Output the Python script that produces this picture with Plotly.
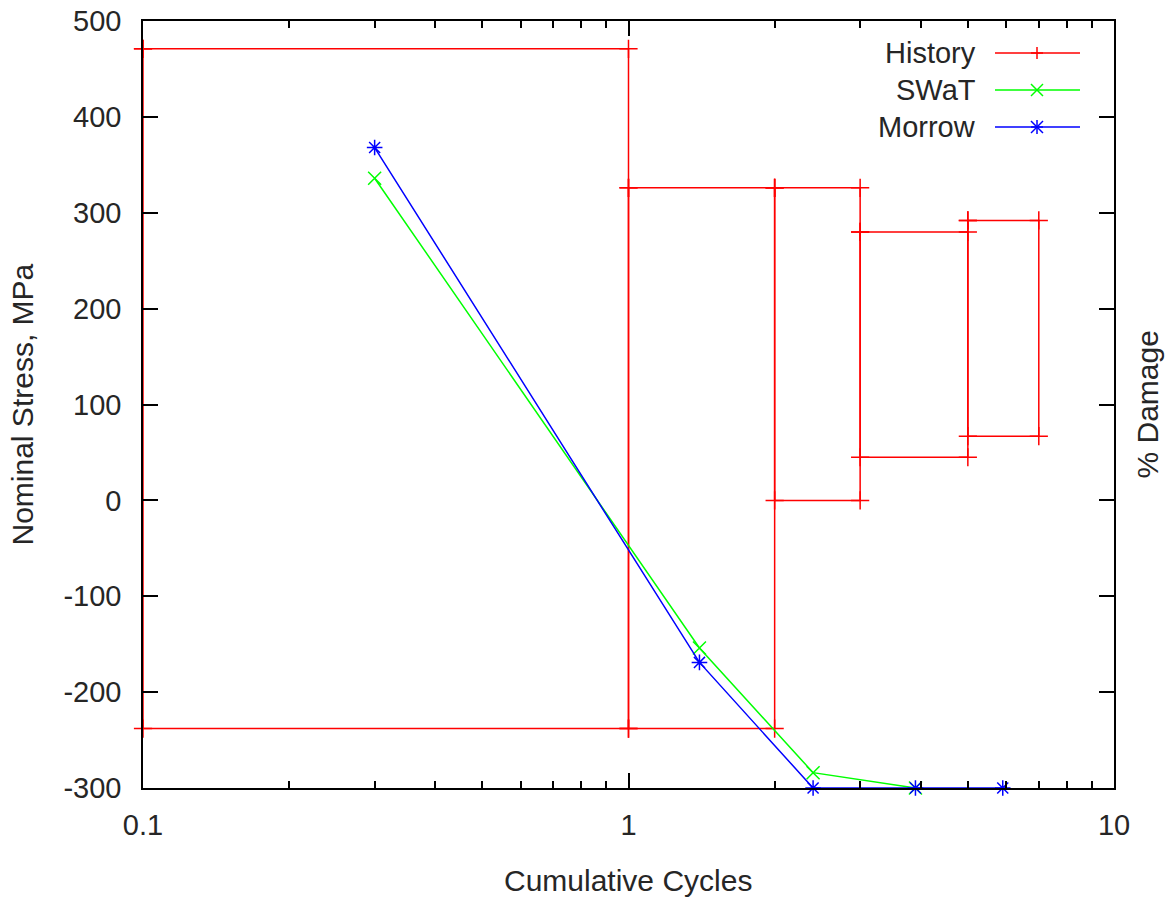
import plotly.graph_objects as go

# ---- data ----
# History blocks: cycle span [start, end] with stress min/max
hist_start = [0.1, 1, 2, 3, 5]
hist_end = [1, 2, 3, 5, 7]
hist_min = [-238, -238, 0, 45, 67]
hist_max = [471, 326, 326, 280, 292]

swat_x = [0.3, 1.4, 2.4, 3.9]
swat_y = [336, -154, -284, -300]

morrow_x = [0.3, 1.4, 2.4, 3.9, 5.9]
morrow_y = [368, -169, -300, -300, -300]

x_major = [0.1, 1, 10]
x_major_text = ["0.1", "1", "10"]
x_minor = [m * d for d in (0.1, 1) for m in range(2, 10)]
y_ticks = list(range(-300, 501, 100))
y_tick_text = [str(v) for v in y_ticks]

# ---- build history rectangles ----
hx, hy = [], []
for x0, x1, lo, hi in zip(hist_start, hist_end, hist_min, hist_max):
    hx += [x0, x1, x1, x0, x0, None]
    hy += [hi, hi, lo, lo, hi, None]

FONT = "Liberation Sans, Arial, sans-serif"
TXT = "#262626"
RED, GREEN, BLUE = "#ff0000", "#00ff00", "#0000ff"
FS = 29

fig = go.Figure()
fig.add_trace(go.Scatter(
    x=hx, y=hy, mode="lines+markers", name="History", cliponaxis=False,
    line=dict(color=RED, width=1.5),
    marker=dict(symbol="cross-thin-open", size=13, line=dict(color=RED, width=1.5)),
    showlegend=False))
fig.add_trace(go.Scatter(
    x=swat_x, y=swat_y, mode="lines+markers", name="SWaT", cliponaxis=False,
    line=dict(color=GREEN, width=1.5),
    marker=dict(symbol="x-thin-open", size=13, line=dict(color=GREEN, width=1.5)),
    showlegend=False))
fig.add_trace(go.Scatter(
    x=morrow_x, y=morrow_y, mode="lines+markers", name="Morrow", cliponaxis=False,
    line=dict(color=BLUE, width=1.5),
    marker=dict(symbol="asterisk-open", size=13, line=dict(color=BLUE, width=1.5)),
    showlegend=False))

# ---- custom gnuplot-style legend (text left, sample right) ----
W, H = 1170, 901
L, R, T, B = 143, 56, 21, 113
pw, ph = W - L - R, H - T - B

def px(xp):
    return (xp - L) / pw

def py(yp):
    return 1 - (yp - T) / ph

shapes = []
annotations = []
legend_items = [("History", RED, "plus"), ("SWaT", GREEN, "x"), ("Morrow", BLUE, "star")]
for i, (name, col, sym) in enumerate(legend_items):
    yc = 53 + i * 37
    annotations.append(dict(x=px(978), y=py(yc), xref="paper", yref="paper", text=name,
                            showarrow=False, xanchor="right", yanchor="middle",
                            font=dict(family=FONT, size=FS, color=TXT)))
    shapes.append(dict(type="line", xref="paper", yref="paper", x0=px(995), x1=px(1080),
                       y0=py(yc), y1=py(yc), line=dict(color=col, width=1.5)))
    cx = 1037
    if sym == "plus":
        segs = [(-6, 0, 6, 0), (0, -6, 0, 6)]
    elif sym == "x":
        segs = [(-6, -6, 6, 6), (-6, 6, 6, -6)]
    else:
        segs = [(-6, -6, 6, 6), (-6, 6, 6, -6), (0, -7, 0, 7), (-6, 0, 6, 0)]
    for dx0, dy0, dx1, dy1 in segs:
        shapes.append(dict(type="line", xref="paper", yref="paper",
                           x0=px(cx + dx0), x1=px(cx + dx1), y0=py(yc + dy0), y1=py(yc + dy1),
                           line=dict(color=col, width=1.5)))

# axis titles
annotations.append(dict(x=px(22), y=0.5, xref="paper", yref="paper", text="Nominal Stress, MPa",
                        textangle=-90, showarrow=False, xanchor="center", yanchor="middle",
                        font=dict(family=FONT, size=FS + 1, color=TXT)))
annotations.append(dict(x=px(1147), y=0.5, xref="paper", yref="paper", text="% Damage",
                        textangle=-90, showarrow=False, xanchor="center", yanchor="middle",
                        font=dict(family=FONT, size=FS + 1, color=TXT)))
annotations.append(dict(x=px(628), y=py(880), xref="paper", yref="paper", text="Cumulative Cycles",
                        showarrow=False, xanchor="center", yanchor="middle",
                        font=dict(family=FONT, size=FS + 1, color=TXT)))

fig.update_layout(
    width=W, height=H, autosize=False,
    margin=dict(l=L, r=R, t=T, b=B, pad=0, autoexpand=False),
    paper_bgcolor="white", plot_bgcolor="white",
    font=dict(family=FONT, size=FS, color=TXT),
    showlegend=False,
    shapes=shapes, annotations=annotations,
    xaxis=dict(
        type="log", range=[-1, 1], tickmode="array", tickvals=x_major, ticktext=x_major_text,
        ticks="inside", ticklen=15, tickwidth=1.5, tickcolor="black",
        showline=True, linecolor="black", linewidth=1.5, mirror="allticks",
        showgrid=False, zeroline=False, layer="above traces", automargin=False,
        minor=dict(tickmode="array", tickvals=x_minor, ticks="inside", ticklen=7,
                   tickwidth=1.5, tickcolor="black", showgrid=False),
        tickfont=dict(family=FONT, size=FS, color=TXT), ticklabelstandoff=10,
    ),
    yaxis=dict(
        range=[-300, 500], tickmode="array", tickvals=y_ticks, ticktext=y_tick_text,
        ticks="inside", ticklen=15, tickwidth=1.5, tickcolor="black",
        showline=True, linecolor="black", linewidth=1.5, mirror="allticks",
        showgrid=False, zeroline=False, layer="above traces", automargin=False,
        tickfont=dict(family=FONT, size=FS, color=TXT), ticklabelstandoff=14,
    ),
)

fig.write_html("out.html", config={"displayModeBar": False},
               post_script="document.body.style.margin='0';")
